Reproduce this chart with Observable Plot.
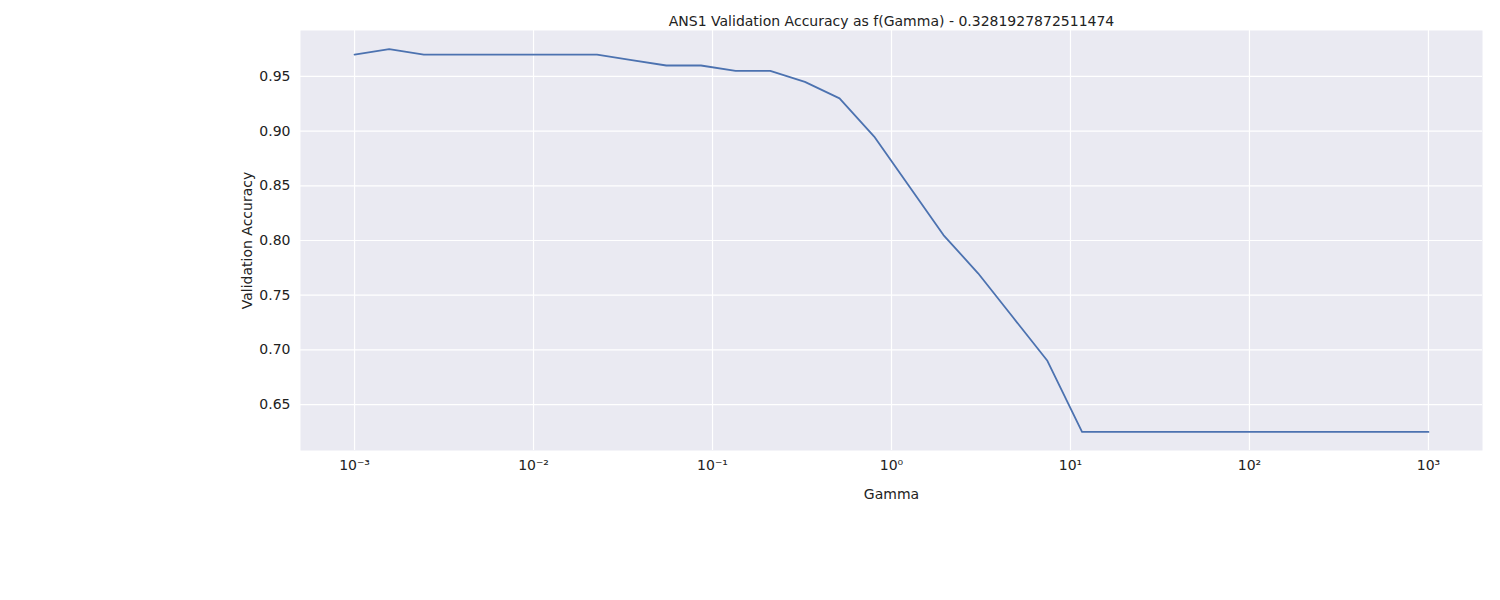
<!DOCTYPE html>
<html>
<head>
<meta charset="utf-8">
<script src="https://cdn.jsdelivr.net/npm/d3@7"></script>
<script src="https://cdn.jsdelivr.net/npm/@observablehq/plot@0.6"></script>
<style>
  body { margin: 0; background: white; }
</style>
</head>
<body>
<div id="myplot"></div>
<script>
// 32 gamma values, logspace(-3, 3, 32)
const exponents = d3.range(32).map(i => -3 + i * 6 / 31);
const accuracy = [
  0.970, 0.975, 0.970, 0.970, 0.970, 0.970, 0.970, 0.970,
  0.965, 0.960, 0.960, 0.955, 0.955, 0.945, 0.930, 0.895,
  0.850, 0.805, 0.770, 0.730, 0.690, 0.625, 0.625, 0.625,
  0.625, 0.625, 0.625, 0.625, 0.625, 0.625, 0.625, 0.625
];
const yTicks = [0.65, 0.70, 0.75, 0.80, 0.85, 0.90, 0.95];
const xTicks = [1e-3, 1e-2, 1e-1, 1e0, 1e1, 1e2, 1e3];
const title = "ANS1 Validation Accuracy as f(Gamma) - 0.3281927872511474";

const data = exponents.map((e, i) => ({gamma: Math.pow(10, e), acc: accuracy[i]}));
const sup = {"-": "\u207b", "0": "\u2070", "1": "\u00b9", "2": "\u00b2", "3": "\u00b3"};

const plot = Plot.plot({
  width: 1500,
  height: 600,
  marginLeft: 300,
  marginRight: 18,
  marginTop: 30,
  marginBottom: 150,
  style: {fontFamily: "DejaVu Sans, sans-serif", fontSize: "14px", color: "#222"},
  x: {
    type: "log",
    domain: [Math.pow(10, -3.302), Math.pow(10, 3.302)],
    ticks: xTicks,
    tickFormat: d => "10" + String(Math.round(Math.log10(d))).split("").map(c => sup[c]).join(""),
    tickSize: 0,
    tickPadding: 10,
    label: "Gamma",
    labelAnchor: "center",
    labelArrow: "none",
    labelOffset: 48
  },
  y: {
    domain: [0.608, 0.992],
    ticks: yTicks,
    tickFormat: d3.format(".2f"),
    tickSize: 0,
    tickPadding: 10,
    label: "Validation Accuracy",
    labelAnchor: "center",
    labelArrow: "none",
    labelOffset: 58
  },
  marks: [
    Plot.frame({fill: "#eaeaf2", stroke: null}),
    Plot.gridX(xTicks, {stroke: "white", strokeOpacity: 1, strokeWidth: 1.2}),
    Plot.gridY(yTicks, {stroke: "white", strokeOpacity: 1, strokeWidth: 1.2}),
    Plot.line(data, {x: "gamma", y: "acc", stroke: "#4c72b0", strokeWidth: 1.8}),
    Plot.text([title], {frameAnchor: "top", dy: -14, fontSize: 14, fill: "#222"})
  ]
});
document.querySelector("#myplot").append(plot);
</script>
</body>
</html>
